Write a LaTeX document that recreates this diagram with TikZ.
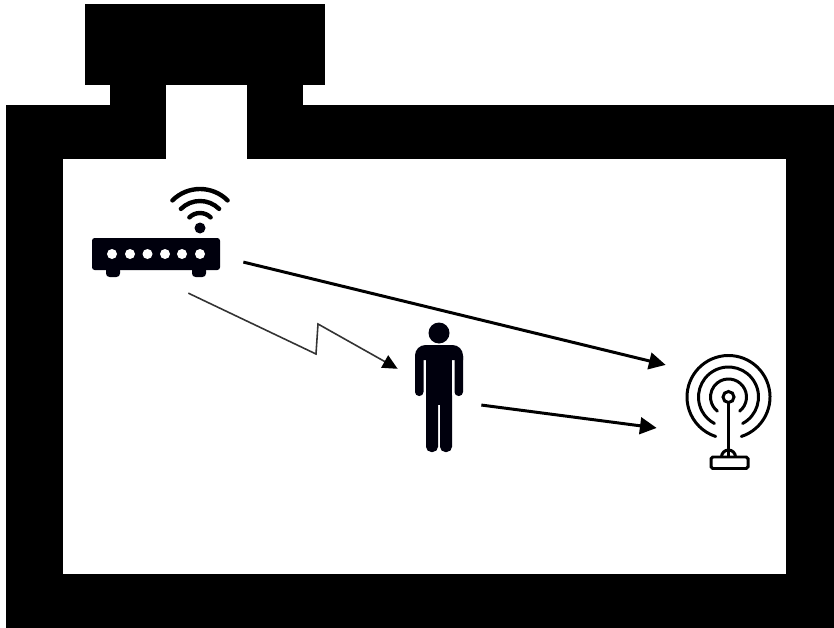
\documentclass[tikz,border=0pt]{standalone}
\usepackage{amsmath, amssymb}
\usetikzlibrary{arrows.meta}
\tikzset{
	wallfill/.style={fill=black},
	iconblack/.style={fill=black!95!blue},
	signal/.style={draw,-{Triangle[length=9.5pt,width=9.5pt]},line width=1.7pt},
	thinsignal/.style={draw=black!80,-{Triangle[length=8.5pt,width=8pt,color=black]},line width=0.9pt},
	ring/.style={draw=black,line width=1.7pt,line cap=round},
	anchorpt/.style={inner sep=0pt,minimum size=0pt}
}

\begin{document}
\begin{tikzpicture}[x=0.02cm,y=-0.02cm]
	\useasboundingbox (0,0) rectangle (834,628);
	% 墙体与顶部盒子
	\fill[wallfill] (6,105) rectangle (834,628);
	\fill[wallfill] (110,85) rectangle (303,105);
	\fill[wallfill] (85,4) rectangle (325,85);
	\fill[white] (63,159) rectangle (786,574);
	\fill[white] (166,85) rectangle (247,160);

	% 路由器
	\fill[iconblack,rounded corners=1.5pt] (92,238) rectangle (220,270);
	\fill[iconblack,rounded corners=2pt] (106,265) rectangle (120,277);
	\fill[iconblack,rounded corners=2pt] (192,265) rectangle (206,277);
	\foreach \x in {112,130,147.5,165,182,200} \fill[white] (\x,254) circle (5);
	\fill[iconblack] (200,228) circle (5.5);
	\foreach \r in {15,27,39}
		\draw[black,line width=2.5pt,line cap=round] (200,228)+(-135:\r) arc[start angle=-135,end angle=-45,radius=\r];

	% 人
	\fill[iconblack] (439,333) circle (10.5);
	\fill[iconblack] (415,360) [rounded corners=6pt] -- (415,345) -- (463,345) [sharp corners] -- (463,360) -- cycle;
	\fill[iconblack,rounded corners=2.3pt] (415,352) rectangle (423.5,396);
	\fill[iconblack,rounded corners=2.3pt] (454.5,352) rectangle (463,396);
	\fill[iconblack] (426,350) rectangle (452,405);
	\fill[iconblack,rounded corners=3pt] (426,390) rectangle (438,452);
	\fill[iconblack,rounded corners=3pt] (440,390) rectangle (452,452);

	% 天线
	\foreach \r/\a in {18/38,30/28,41.5/18}
		\draw[ring] (728.5,397)+(90-\a:\r) arc[start angle=90-\a,end angle=-270+\a,radius=\r];
	\draw[black,line width=1.7pt] (728.5,397) circle (5.5);
	\draw[black,line width=1.7pt] (728.5,403) -- (728.5,457);
	\draw[black,line width=1.7pt,rounded corners=1pt] (711,457) rectangle (748,468.5);
	\draw[black,line width=1.7pt] (721.5,457) arc[start angle=180,end angle=360,radius=7];

	% 箭头端点与箭头
	\node[anchorpt] (routerout) at (243,262) {};
	\node[anchorpt] (routerlow) at (188,293) {};
	\node[anchorpt] (personin) at (398,369) {};
	\node[anchorpt] (personout) at (481,405) {};
	\node[anchorpt] (antennatop) at (666,365) {};
	\node[anchorpt] (antennalow) at (657,428) {};
	\coordinate (zigA) at (316,354);
	\coordinate (zigB) at (318,324);
	\path[signal] (routerout) -- (antennatop);
	\path[signal] (personout) -- (antennalow);
	\path[thinsignal] (routerlow) -- (zigA) -- (zigB) -- (personin);
\end{tikzpicture}
\end{document}
